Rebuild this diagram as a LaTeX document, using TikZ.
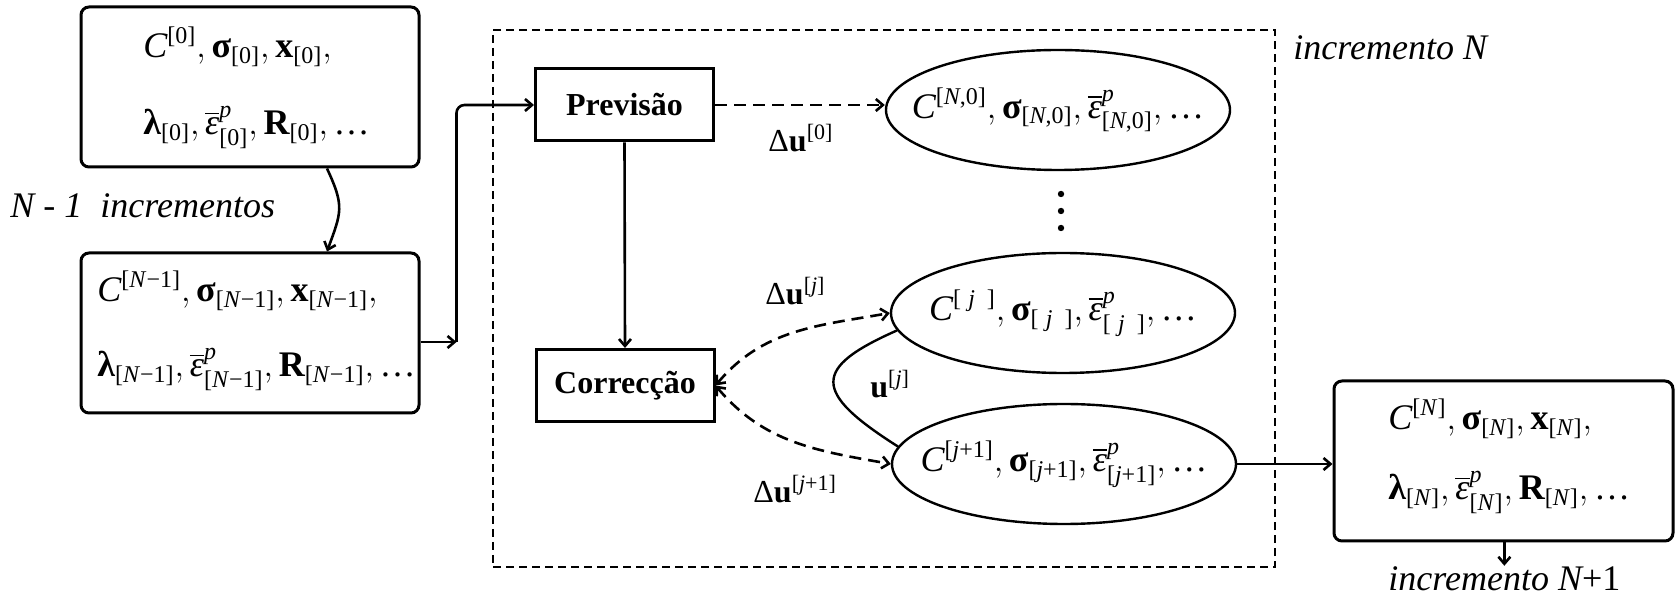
\documentclass[tikz,border=0pt]{standalone}
\usepackage{amsmath}
\usepackage{fontspec}
\setmainfont{Liberation Serif}
\usetikzlibrary{shapes.geometric,arrows.meta,calc}
\DeclareMathSizes{18}{18}{12}{9}
\DeclareMathSizes{16}{16}{11}{8}

\newcommand{\Mit}[1]{\text{\normalfont\itshape #1}}
\newcommand{\Mbf}[1]{\text{\normalfont\bfseries #1}}
\newcommand{\Sx}[1]{\text{\normalfont[#1]}}
\newcommand{\Eps}{\overline{\Mit{ε}}}
\newcommand{\Dl}{\text{\normalfont Δ}}
\newcommand{\Dts}{\text{\normalfont …}}

\tikzset{
  box/.style={draw, line width=1.5pt, rounded corners=4pt, minimum width=169pt, minimum height=80pt, inner sep=0pt},
  sq/.style={draw, line width=1.5pt, minimum width=89pt, minimum height=36pt, inner sep=0pt, font=\fontsize{16}{19}\selectfont\bfseries},
  ell/.style={draw, ellipse, line width=1.2pt, minimum width=172pt, minimum height=60pt, inner sep=0pt},
  etxt/.style={inner sep=0pt, font=\fontsize{18}{22}\selectfont},
  mtxt/.style={anchor=base west, inner sep=0pt, font=\fontsize{18}{22}\selectfont},
  lbl/.style={anchor=base west, inner sep=0pt, font=\fontsize{16}{19}\selectfont},
  itx/.style={anchor=base west, inner sep=0pt, font=\fontsize{18}{22}\selectfont\itshape},
  dframe/.style={draw, dash pattern=on 4pt off 2.5pt, line width=0.9pt, minimum width=391pt, minimum height=268.5pt, inner sep=0pt},
  dotn/.style={circle, fill, inner sep=0pt, minimum size=3.2pt},
  arr/.style={line width=1.3pt, ->},
  darr/.style={line width=1.3pt, dash pattern=on 6pt off 3.5pt},
  conn/.style={line width=1.2pt},
}

\begin{document}
\begin{tikzpicture}[x=0.5pt, y=-0.5pt, >={Straight Barb[length=3.5pt,width=6pt]}]
\useasboundingbox (0,0) rectangle (1677,598);
\fill[white] (0,0) rectangle (1677,598);

% boxes
\node[box] (b1) at (250,87) {};
\node[box] (b2) at (250,333) {};
\node[box, minimum width=169.5pt] (bo) at (1503.5,461) {};
\node[dframe] (fr) at (884,298.5) {};
\node[sq] (prev) at (624.5,105) {Previsão};
\node[sq] (corr) at (625,385.5) {Correcção};
\node[ell] (e1) at (1058,110) {};
\node[ell] (e2) at (1063,313) {};
\node[ell] (e3) at (1064,464) {};

% box texts
\node[mtxt] (t1a) at (143,58) {$\Mit{C}^{\Sx{0}}, \Mbf{σ}_{\Sx{0}}, \Mbf{x}_{\Sx{0}},$};
\node[mtxt] (t1b) at (143,135) {$\Mbf{λ}_{\Sx{0}}, \Eps^{\Mit{p}}_{\Sx{0}}, \Mbf{R}_{\Sx{0}}, \Dts$};
\node[mtxt] (t2a) at (97,302) {$\Mit{C}^{\Sx{\textit{N}−1}}, \Mbf{σ}_{\Sx{\textit{N}−1}}, \Mbf{x}_{\Sx{\textit{N}−1}},$};
\node[mtxt] (t2b) at (97,377) {$\Mbf{λ}_{\Sx{\textit{N}−1}}, \Eps^{\Mit{p}}_{\Sx{\textit{N}−1}}, \Mbf{R}_{\Sx{\textit{N}−1}}, \Dts$};
\node[mtxt] (t3a) at (1388,430) {$\Mit{C}^{\Sx{\textit{N}}}, \Mbf{σ}_{\Sx{\textit{N}}}, \Mbf{x}_{\Sx{\textit{N}}},$};
\node[mtxt] (t3b) at (1388,500) {$\Mbf{λ}_{\Sx{\textit{N}}}, \Eps^{\Mit{p}}_{\Sx{\textit{N}}}, \Mbf{R}_{\Sx{\textit{N}}}, \Dts$};

% ellipse texts
\node[etxt] (e1t) at (e1) {$\Mit{C}^{\Sx{\textit{N},0}}, \Mbf{σ}_{\Sx{\textit{N},0}}, \Eps^{\Mit{p}}_{\Sx{\textit{N},0}}, \Dts$};
\node[etxt] (e2t) at (e2) {$\Mit{C}^{\Sx{\hspace{.3em}\textit{j}\hspace{.5em}}}, \Mbf{σ}_{\Sx{\hspace{.3em}\textit{j}\hspace{.5em}}}, \Eps^{\Mit{p}}_{\Sx{\hspace{.3em}\textit{j}\hspace{.5em}}}, \Dts$};
\node[etxt] (e3t) at (e3) {$\Mit{C}^{\Sx{\textit{j}+1}}, \Mbf{σ}_{\Sx{\textit{j}+1}}, \Eps^{\Mit{p}}_{\Sx{\textit{j}+1}}, \Dts$};

% dots
\node[dotn] (d1) at (1061,194) {};
\node[dotn] (d2) at (1061,211) {};
\node[dotn] (d3) at (1061,228) {};

% free texts
\node[itx] (nm1) at (10,218) {N - 1\ \ incrementos};
\node[itx] (incN) at (1293,60) {incremento N};
\node[itx] (incN1) at (1388,590) {incremento N{\upshape +1}};

% labels
\node[lbl] (du0) at (768,152) {$\Dl\Mbf{u}^{\Sx{0}}$};
\node[lbl] (duj) at (765,305) {$\Dl\Mbf{u}^{\Sx{\textit{j}}}$};
\node[lbl] (duj1) at (753,503) {$\Dl\Mbf{u}^{\Sx{\textit{j}+1}}$};
\node[lbl] (uj) at (870,398) {$\Mbf{u}^{\Sx{\textit{j}}}$};

% connectors
\draw[arr] ($(b1.south)+(77,0)$) to[out=-65,in=70,looseness=1.3] ($(b2.north)+(77,0)$);
\coordinate (c1) at ($(b2.east)+(36,9)$);
\draw[arr] ($(b2.east)+(0,9)$) -- (c1);
\draw[arr, rounded corners=4pt] (c1) |- (prev.west);
\draw[darr, ->] (prev.east) -- (e1.west |- prev.east);
\draw[arr] (prev.south) -- (corr.north);
\draw[darr, <->] (corr.east) to[out=50,in=190] (e2.west);
\draw[darr, <->] (corr.east) to[out=-50,in=170] (e3.west);
\draw[conn] (e2.186) .. controls (812,368) and (812,392) .. (e3.174);
\draw[arr] (e3.east) -- (bo.west |- e3.east);
\draw[arr] (bo.south -| incN1.north) -- (incN1.north);
\end{tikzpicture}
\end{document}
